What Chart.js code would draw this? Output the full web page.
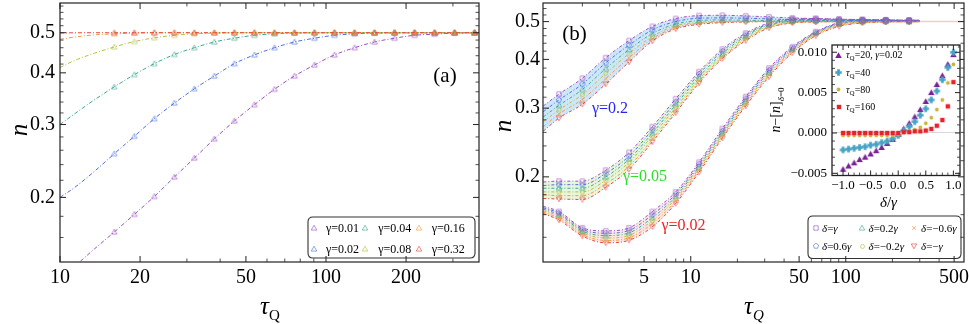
<!DOCTYPE html>
<html><head><meta charset="utf-8">
<script src="https://cdn.jsdelivr.net/npm/chart.js@4.4.1/dist/chart.umd.min.js"></script>
<style>
html,body{margin:0;padding:0;background:#fff;}
#wrap{position:relative;width:969px;height:324px;overflow:hidden;font-family:'Liberation Serif','Times New Roman',serif;background:#fff;}
canvas{position:absolute;left:0;top:0;}
.t{position:absolute;white-space:nowrap;line-height:1;color:#000;font-family:'Liberation Serif','Times New Roman',serif;}
</style></head><body>
<div id="wrap">
<canvas id="ca" width="969" height="324"></canvas>
<canvas id="cb" width="969" height="324"></canvas>
<canvas id="ci" width="969" height="324"></canvas>
</div>
<script>
// ================= DATA =================
// Panel (a): n vs tau_Q for several gamma
const tauA = [10, 11.31, 13.45, 16, 19.03, 22.63, 26.91, 32, 38.05, 45.25, 53.82, 64, 76.11, 90.51, 107.6, 128, 152.2, 181.0, 215.3, 256, 304.4, 362.0, 376];
const gammaLabelsA = ['γ=0.01', 'γ=0.02', 'γ=0.04', 'γ=0.08', 'γ=0.16', 'γ=0.32'];
const nA_g001 = [0.127, 0.136, 0.150, 0.165, 0.182, 0.201, 0.224, 0.249, 0.277, 0.306, 0.335, 0.365, 0.393, 0.418, 0.442, 0.460, 0.475, 0.485, 0.493, 0.496, 0.499, 0.500, 0.500];
const nA_g002 = [0.200, 0.211, 0.231, 0.255, 0.281, 0.310, 0.338, 0.366, 0.393, 0.421, 0.442, 0.460, 0.475, 0.485, 0.493, 0.497, 0.499, 0.500, 0.500, 0.500, 0.500, 0.500, 0.500];
const nA_g004 = [0.300, 0.318, 0.344, 0.370, 0.396, 0.421, 0.443, 0.460, 0.475, 0.485, 0.493, 0.497, 0.499, 0.500, 0.500, 0.500, 0.500, 0.500, 0.500, 0.500, 0.500, 0.500, 0.500];
const nA_g008 = [0.412, 0.428, 0.446, 0.462, 0.476, 0.486, 0.493, 0.497, 0.499, 0.500, 0.500, 0.500, 0.500, 0.500, 0.500, 0.500, 0.500, 0.500, 0.500, 0.500, 0.500, 0.500, 0.500];
const nA_g016 = [0.482, 0.488, 0.494, 0.497, 0.499, 0.500, 0.500, 0.500, 0.500, 0.500, 0.500, 0.500, 0.500, 0.500, 0.500, 0.500, 0.500, 0.500, 0.500, 0.500, 0.500, 0.500, 0.500];
const nA_g032 = [0.4995, 0.4998, 0.500, 0.500, 0.500, 0.500, 0.500, 0.500, 0.500, 0.500, 0.500, 0.500, 0.500, 0.500, 0.500, 0.500, 0.500, 0.500, 0.500, 0.500, 0.500, 0.500, 0.500];
const xTicksA = [10, 20, 50, 100, 200];
const yTicksA = [0.2, 0.3, 0.4, 0.5];

// Panel (b): n vs tau_Q for three gamma groups and six delta values
const tauB = [1.12, 1.414, 2, 2.828, 4, 5.657, 8, 11.31, 16, 22.63, 32, 45.25, 64, 90.51, 128, 181.0, 256, 300];
const deltaLabels = ['δ=γ', 'δ=0.6γ', 'δ=0.2γ', 'δ=−0.2γ', 'δ=−0.6γ', 'δ=−γ'];
const nB_g020_d100 = [0.304, 0.326, 0.358, 0.404, 0.447, 0.486, 0.509, 0.518, 0.519, 0.517, 0.514, 0.511, 0.509, 0.507, 0.506, 0.505, 0.504, 0.504];
const nB_g020_d060 = [0.294, 0.315, 0.346, 0.392, 0.435, 0.476, 0.500, 0.510, 0.511, 0.510, 0.508, 0.506, 0.505, 0.504, 0.503, 0.503, 0.502, 0.502];
const nB_g020_d020 = [0.285, 0.305, 0.335, 0.379, 0.424, 0.466, 0.493, 0.503, 0.505, 0.504, 0.503, 0.502, 0.502, 0.501, 0.501, 0.501, 0.500, 0.500];
const nB_g020_dm020 = [0.277, 0.297, 0.325, 0.368, 0.414, 0.458, 0.488, 0.498, 0.501, 0.501, 0.501, 0.500, 0.500, 0.500, 0.500, 0.500, 0.500, 0.500];
const nB_g020_dm060 = [0.269, 0.290, 0.316, 0.357, 0.404, 0.452, 0.483, 0.495, 0.499, 0.500, 0.500, 0.500, 0.500, 0.500, 0.500, 0.500, 0.500, 0.500];
const nB_g020_dm100 = [0.262, 0.283, 0.307, 0.346, 0.394, 0.446, 0.479, 0.492, 0.497, 0.499, 0.500, 0.500, 0.500, 0.500, 0.500, 0.500, 0.500, 0.500];
const nB_g005_d100 = [0.194, 0.195, 0.195, 0.208, 0.231, 0.269, 0.317, 0.372, 0.425, 0.467, 0.496, 0.508, 0.509, 0.507, 0.506, 0.505, 0.504, 0.504];
const nB_g005_d060 = [0.190, 0.191, 0.191, 0.204, 0.226, 0.264, 0.311, 0.367, 0.420, 0.463, 0.493, 0.504, 0.506, 0.505, 0.504, 0.503, 0.502, 0.502];
const nB_g005_d020 = [0.187, 0.187, 0.187, 0.200, 0.222, 0.259, 0.306, 0.361, 0.414, 0.459, 0.490, 0.501, 0.503, 0.502, 0.501, 0.501, 0.501, 0.501];
const nB_g005_dm020 = [0.183, 0.183, 0.183, 0.196, 0.218, 0.255, 0.301, 0.356, 0.409, 0.455, 0.487, 0.499, 0.501, 0.501, 0.500, 0.500, 0.500, 0.500];
const nB_g005_dm060 = [0.180, 0.179, 0.179, 0.192, 0.213, 0.250, 0.296, 0.352, 0.405, 0.451, 0.484, 0.497, 0.500, 0.500, 0.500, 0.500, 0.500, 0.500];
const nB_g005_dm100 = [0.176, 0.1755, 0.175, 0.188, 0.209, 0.246, 0.292, 0.348, 0.402, 0.447, 0.482, 0.496, 0.499, 0.500, 0.500, 0.500, 0.500, 0.500];
const nB_g002_d100 = [0.168, 0.163, 0.148, 0.1454, 0.148, 0.163, 0.183, 0.218, 0.266, 0.321, 0.380, 0.431, 0.471, 0.497, 0.505, 0.505, 0.504, 0.504];
const nB_g002_d060 = [0.1666, 0.1615, 0.1466, 0.1434, 0.1458, 0.160, 0.1805, 0.2155, 0.2625, 0.3175, 0.376, 0.428, 0.469, 0.495, 0.503, 0.503, 0.503, 0.503];
const nB_g002_d020 = [0.1652, 0.160, 0.1452, 0.1414, 0.1437, 0.1572, 0.178, 0.2128, 0.2595, 0.314, 0.372, 0.425, 0.467, 0.493, 0.501, 0.502, 0.502, 0.502];
const nB_g002_dm020 = [0.1638, 0.1585, 0.1438, 0.1394, 0.1416, 0.1545, 0.1757, 0.2104, 0.2565, 0.3105, 0.368, 0.422, 0.465, 0.491, 0.499, 0.501, 0.501, 0.501];
const nB_g002_dm060 = [0.1624, 0.1567, 0.1424, 0.1374, 0.1396, 0.1518, 0.1733, 0.208, 0.254, 0.307, 0.3645, 0.419, 0.4625, 0.4885, 0.4975, 0.500, 0.500, 0.500];
const nB_g002_dm100 = [0.161, 0.155, 0.141, 0.1355, 0.1376, 0.149, 0.171, 0.2056, 0.2515, 0.304, 0.361, 0.416, 0.460, 0.486, 0.496, 0.499, 0.500, 0.500];
const tauRefLine = [30, 580];
const nRefLine = [0.5, 0.5];
const xTicksB = [5, 10, 50, 100, 500];
const yTicksB = [0.2, 0.3, 0.4, 0.5];

// Inset: n - [n]_{delta=0} vs delta/gamma
const dOverG = [-1.0, -0.9, -0.8, -0.7, -0.6, -0.5, -0.4, -0.3, -0.2, -0.1, 0.0, 0.1, 0.2, 0.3, 0.4, 0.5, 0.6, 0.7, 0.8, 0.9, 1.0];
const insetLabels = ['τQ=20, γ=0.02', 'τQ=40', 'τQ=80', 'τQ=160'];
const dn_tq20 = [-0.0045, -0.0041, -0.0037, -0.0033, -0.0030, -0.0026, -0.0022, -0.0018, -0.0013, -0.0008, -0.0002, 0.0005, 0.0012, 0.0020, 0.0029, 0.0039, 0.0050, 0.0060, 0.0071, 0.0085, 0.0097];
const dn_tq40 = [-0.0021, -0.0020, -0.0019, -0.0018, -0.0017, -0.0015, -0.0014, -0.0012, -0.0010, -0.0007, -0.0003, 0.0003, 0.0008, 0.0014, 0.0022, 0.0030, 0.0041, 0.0052, 0.0066, 0.0081, 0.0100];
const dn_tq80 = [-0.0003, -0.0003, -0.0003, -0.0003, -0.0003, -0.0003, -0.0003, -0.0003, -0.0003, -0.0003, -0.0002, 0.0001, 0.0002, 0.0004, 0.0007, 0.0012, 0.0019, 0.0029, 0.0041, 0.0062, 0.0085];
const dn_tq160 = [0.0000, 0.0000, 0.0000, 0.0000, 0.0000, 0.0000, 0.0000, 0.0000, 0.0000, 0.0000, 0.0000, 0.0001, 0.0001, 0.0002, 0.0002, 0.0003, 0.0005, 0.0009, 0.0016, 0.0033, 0.0063];
const xTicksI = [-1, -0.5, 0, 0.5, 1];
const yTicksI = [-0.005, 0, 0.005, 0.01];

// ================= STYLE / HELPERS =================
const W = 969, H = 324;
const SERIF = "'Liberation Serif','Times New Roman',serif";
const colsA = ['#9b4fbe', '#4d6fe0', '#3ea98e', '#b8bf3e', '#f09a3a', '#e5443c'];
const colsB = ['#9b4fbe', '#4d6fe0', '#3ea98e', '#b8bf3e', '#f09a3a', '#e5443c'];
const colsI = ['#7a2196', '#45a3c6', '#c9b53c', '#e6222a'];

function mk(shape, color, s, filled, lw) {
  const Wc = Math.ceil(s + 4);
  const c = document.createElement('canvas'); c.width = Wc; c.height = Wc;
  const g = c.getContext('2d'); const m = Wc / 2, r = s / 2;
  g.strokeStyle = color; g.fillStyle = color; g.lineWidth = lw || 0.9;
  g.beginPath();
  if (shape === 'tri') { g.moveTo(m, m - r); g.lineTo(m + r, m + r * 0.75); g.lineTo(m - r, m + r * 0.75); g.closePath(); }
  else if (shape === 'itri') { g.moveTo(m, m + r); g.lineTo(m + r, m - r * 0.75); g.lineTo(m - r, m - r * 0.75); g.closePath(); }
  else if (shape === 'sq') { g.rect(m - r * 0.8, m - r * 0.8, r * 1.6, r * 1.6); }
  else if (shape === 'pent') { for (let i = 0; i < 5; i++) { const a = -Math.PI / 2 + i * 2 * Math.PI / 5; const px = m + r * Math.cos(a), py = m + r * Math.sin(a); if (i) g.lineTo(px, py); else g.moveTo(px, py); } g.closePath(); }
  else if (shape === 'circ') { g.arc(m, m, r * 0.8, 0, 2 * Math.PI); }
  else if (shape === 'x') { const q = r * 0.7; g.moveTo(m - q, m - q); g.lineTo(m + q, m + q); g.moveTo(m + q, m - q); g.lineTo(m - q, m + q); }
  else if (shape === 'plus') { const a = r * 0.42; g.moveTo(m - a, m - r); g.lineTo(m + a, m - r); g.lineTo(m + a, m - a); g.lineTo(m + r, m - a); g.lineTo(m + r, m + a); g.lineTo(m + a, m + a); g.lineTo(m + a, m + r); g.lineTo(m - a, m + r); g.lineTo(m - a, m + a); g.lineTo(m - r, m + a); g.lineTo(m - r, m - a); g.lineTo(m - a, m - a); g.closePath(); }
  if (filled) g.fill(); else g.stroke();
  return c;
}

function fixArea(area) {
  const z = s => { s.paddingLeft = 0; s.paddingRight = 0; s.paddingTop = 0; s.paddingBottom = 0; };
  return {
    x: s => { s.height = H - area.b; z(s); },
    y: s => { s.width = area.l; z(s); }
  };
}

const framePlugin = {
  id: 'frame',
  afterDatasetsDraw(chart, args, o) {
    const { ctx, chartArea: a } = chart; const xs = chart.scales.x, ys = chart.scales.y;
    ctx.save();
    if (o.legend) drawLegend(ctx, o.legend);
    ctx.strokeStyle = o.color || '#222'; ctx.lineWidth = o.lw || 1;
    const seg = (x1, y1, x2, y2) => { ctx.beginPath(); ctx.moveTo(x1, y1); ctx.lineTo(x2, y2); ctx.stroke(); };
    const doX = (vals, len) => vals.forEach(v => { const p = xs.getPixelForValue(v); if (p < a.left - 0.5 || p > a.right + 0.5) return; seg(p, a.bottom, p, a.bottom - len); seg(p, a.top, p, a.top + len); });
    const doY = (vals, len) => vals.forEach(v => { const p = ys.getPixelForValue(v); if (p < a.top - 0.5 || p > a.bottom + 0.5) return; seg(a.left, p, a.left + len, p); seg(a.right, p, a.right - len, p); });
    ctx.lineWidth = 0.8;
    doX(o.xMinor || [], o.min); doY(o.yMinor || [], o.min);
    ctx.lineWidth = 1;
    doX(o.xMajor || [], o.maj); doY(o.yMajor || [], o.maj);
    ctx.lineWidth = o.lw || 1.2;
    ctx.strokeRect(a.left, a.top, a.right - a.left, a.bottom - a.top);
    ctx.restore();
  }
};

function drawLegend(ctx, L) {
  if (L.box) {
    const [x0, y0, x1, y1] = L.box; const r = 5;
    ctx.save();
    ctx.beginPath();
    ctx.moveTo(x0 + r, y0); ctx.lineTo(x1 - r, y0); ctx.quadraticCurveTo(x1, y0, x1, y0 + r);
    ctx.lineTo(x1, y1 - r); ctx.quadraticCurveTo(x1, y1, x1 - r, y1);
    ctx.lineTo(x0 + r, y1); ctx.quadraticCurveTo(x0, y1, x0, y1 - r);
    ctx.lineTo(x0, y0 + r); ctx.quadraticCurveTo(x0, y0, x0 + r, y0); ctx.closePath();
    ctx.fillStyle = '#fff'; ctx.fill(); ctx.strokeStyle = '#333'; ctx.lineWidth = 1.1; ctx.stroke();
    ctx.restore();
  }
  L.items.forEach(it => { ctx.drawImage(it.img, Math.round(it.x - it.img.width / 2), Math.round(it.y - it.img.height / 2)); });
}

function logMinors(lo, hi, majors) {
  const out = [];
  for (let e = -2; e <= 3; e++) for (let k = 1; k <= 9; k++) { const v = +(k * Math.pow(10, e)).toPrecision(6); if (v >= lo && v <= hi && !majors.includes(v)) out.push(v); }
  return out;
}
function stepMinors(lo, hi, st, majors) {
  const out = []; for (let v = Math.ceil(lo / st) * st; v <= hi + 1e-12; v += st) { const r = +v.toFixed(6); if (!majors.some(m => Math.abs(m - r) < 1e-9)) out.push(r); } return out;
}

const tickFont = { family: SERIF, size: 20 };
const common = { responsive: false, animation: false, devicePixelRatio: 1, events: [], maintainAspectRatio: false };

// ================= PANEL (a) =================
const areaA = { l: 60, t: 3, r: 479, b: 262 };
const fA = fixArea(areaA);
const seriesA = [nA_g001, nA_g002, nA_g004, nA_g008, nA_g016, nA_g032];
const triA = colsA.map(c => mk('tri', c + 'cc', 5.5, false, 0.8));
const dsA = seriesA.map((arr, i) => ({
  label: gammaLabelsA[i],
  data: tauA.map((t, j) => ({ x: t, y: arr[j] })),
  borderColor: colsA[i], borderWidth: 1, borderDash: [4, 2, 1, 2],
  pointStyle: triA[i], pointRadius: c => (c.dataIndex >= 3 && c.dataIndex <= 21) ? 3 : 0,
  cubicInterpolationMode: 'monotone', fill: false
}));
new Chart(document.getElementById('ca'), {
  type: 'line',
  data: { datasets: dsA.reverse() },
  options: Object.assign({}, common, {
    layout: { padding: { left: 0, top: areaA.t, right: W - areaA.r, bottom: 0 } },
    scales: {
      x: { type: 'logarithmic', min: 10, max: 376, afterFit: fA.x,
        afterBuildTicks: s => { s.ticks = xTicksA.map(v => ({ value: v })); },
        ticks: { callback: v => String(v), font: tickFont, color: '#000', padding: 4, maxRotation: 0, autoSkip: false },
        grid: { display: false, drawTicks: false }, border: { display: false } },
      y: { type: 'logarithmic', min: 0.1396, max: 0.59, afterFit: fA.y,
        afterBuildTicks: s => { s.ticks = yTicksA.map(v => ({ value: v })); },
        ticks: { callback: v => String(v), font: tickFont, color: '#000', padding: 5, autoSkip: false },
        grid: { display: false, drawTicks: false }, border: { display: false } }
    },
    plugins: {
      legend: { display: false }, tooltip: { enabled: false },
      frame: {
        xMajor: xTicksA, xMinor: logMinors(10, 376, xTicksA), yMajor: yTicksA, yMinor: stepMinors(0.14, 0.59, 0.02, yTicksA),
        maj: 6, min: 3.5,
        legend: { box: [308, 217, 475, 258], items: [0, 1, 2, 3, 4, 5].map(i => ({ img: triA[i], x: [313.5, 365, 419][Math.floor(i / 2)], y: [227.5, 248.5][i % 2] })) }
      }
    }
  }),
  plugins: [framePlugin]
});

// ================= PANEL (b) =================
const areaB = { l: 543, t: 3, r: 964, b: 262 };
const fB = fixArea(areaB);
const groupsB = [
  [nB_g020_d100, nB_g020_d060, nB_g020_d020, nB_g020_dm020, nB_g020_dm060, nB_g020_dm100],
  [nB_g005_d100, nB_g005_d060, nB_g005_d020, nB_g005_dm020, nB_g005_dm060, nB_g005_dm100],
  [nB_g002_d100, nB_g002_d060, nB_g002_d020, nB_g002_dm020, nB_g002_dm060, nB_g002_dm100]
];
const tintsB = ['rgba(190,222,248,0.75)', 'rgba(222,242,208,0.75)', 'rgba(250,222,222,0.75)'];
const shapesB = ['sq', 'pent', 'tri', 'circ', 'x', 'itri'];
const mkB = shapesB.map((s, i) => mk(s, colsB[i] + 'cc', s === 'circ' ? 5 : 5.5, false, 0.8));
const dsB = [];
groupsB.forEach((grp, gi) => {
  const topIndex = dsB.length;
  grp.forEach((arr, di) => {
    dsB.push({
      label: deltaLabels[di],
      data: tauB.map((t, j) => ({ x: t, y: arr[j] })),
      borderColor: colsB[di], borderWidth: 1, borderDash: [3, 2, 1, 2],
      pointStyle: mkB[di], pointRadius: c => (c.dataIndex >= 1 && c.dataIndex <= 16) ? 3 : 0,
      cubicInterpolationMode: 'monotone',
      fill: di === 5 ? { target: topIndex } : false,
      backgroundColor: tintsB[gi]
    });
  });
});
// faint reference line at n = 1/2
dsB.push({ data: tauRefLine.map((t, j) => ({ x: t, y: nRefLine[j] })), borderColor: 'rgba(245,190,190,0.8)', borderWidth: 1.5, pointRadius: 0, fill: false });

new Chart(document.getElementById('cb'), {
  type: 'line',
  data: { datasets: dsB },
  options: Object.assign({}, common, {
    layout: { padding: { left: 0, top: areaB.t, right: W - areaB.r, bottom: 0 } },
    scales: {
      x: { type: 'logarithmic', min: 1.114, max: 579, afterFit: fB.x,
        afterBuildTicks: s => { s.ticks = xTicksB.map(v => ({ value: v })); },
        ticks: { callback: v => String(v), font: tickFont, color: '#000', padding: 4, maxRotation: 0, autoSkip: false },
        grid: { display: false, drawTicks: false }, border: { display: false } },
      y: { type: 'logarithmic', min: 0.121, max: 0.558, afterFit: fB.y,
        afterBuildTicks: s => { s.ticks = yTicksB.map(v => ({ value: v })); },
        ticks: { callback: v => String(v), font: tickFont, color: '#000', padding: 3, autoSkip: false },
        grid: { display: false, drawTicks: false }, border: { display: false } }
    },
    plugins: {
      legend: { display: false }, tooltip: { enabled: false },
      filler: { drawTime: 'beforeDatasetsDraw', propagate: false },
      frame: {
        xMajor: xTicksB, xMinor: logMinors(1.114, 579, xTicksB), yMajor: yTicksB, yMinor: stepMinors(0.12, 0.558, 0.02, yTicksB),
        maj: 6, min: 3.5,
        legend: { box: [808, 216, 961, 258.5], items: [0, 1, 2, 3, 4, 5].map(i => ({ img: mkB[i], x: [816, 862, 913.5][Math.floor(i / 2)], y: [228, 246][i % 2] })) }
      }
    }
  }),
  plugins: [framePlugin]
});

// ================= INSET =================
const areaI = { l: 832, t: 45, r: 960, b: 175.5 };
const fI = fixArea(areaI);
const seriesI = [dn_tq20, dn_tq40, dn_tq80, dn_tq160];
const mkI = [mk('tri', colsI[0], 6.5, true), mk('plus', colsI[1], 6.5, true), mk('circ', colsI[2], 4.8, true), mk('sq', colsI[3], 5.5, true)];
const dsI = seriesI.map((arr, i) => ({
  label: insetLabels[i],
  data: dOverG.map((x, j) => ({ x: x, y: arr[j] })),
  showLine: false, pointStyle: mkI[i], pointRadius: 3
}));
const whiteBg = { id: 'whiteBg', beforeDraw(chart) { const { ctx, chartArea: a } = chart; ctx.save(); ctx.fillStyle = '#fff'; ctx.fillRect(a.left, a.top, a.right - a.left, a.bottom - a.top); ctx.restore(); } };
new Chart(document.getElementById('ci'), {
  type: 'scatter',
  data: { datasets: dsI.reverse() },
  options: Object.assign({}, common, {
    layout: { padding: { left: 0, top: areaI.t, right: W - areaI.r, bottom: 0 } },
    scales: {
      x: { type: 'linear', min: -1.2, max: 1.12, afterFit: fI.x,
        afterBuildTicks: s => { s.ticks = xTicksI.map(v => ({ value: v })); },
        ticks: { callback: v => (v < 0 ? '−' : '') + Math.abs(v).toFixed(1), font: { family: SERIF, size: 13 }, color: '#000', padding: 2, maxRotation: 0, autoSkip: false },
        grid: { display: false, drawTicks: false }, border: { display: false } },
      y: { type: 'linear', min: -0.00527, max: 0.0109, afterFit: fI.y,
        afterBuildTicks: s => { s.ticks = yTicksI.map(v => ({ value: v })); },
        ticks: { callback: v => (v < -1e-9 ? '−' : '') + Math.abs(v).toFixed(3), font: { family: SERIF, size: 13 }, color: '#000', padding: 5, autoSkip: false },
        grid: { display: true, drawTicks: false, drawOnChartArea: true, color: c => (Math.abs(c.tick.value) < 1e-9 ? '#d8d8d8' : 'rgba(0,0,0,0)'), lineWidth: 1 },
        border: { display: false } }
    },
    plugins: {
      legend: { display: false }, tooltip: { enabled: false },
      frame: {
        xMajor: xTicksI, xMinor: stepMinors(-1.2, 1.12, 0.1, xTicksI), yMajor: yTicksI, yMinor: stepMinors(-0.0052, 0.0109, 0.001, yTicksI),
        maj: 5, min: 3, lw: 1.3,
        legend: { items: [0, 1, 2, 3].map(i => ({ img: mkI[i], x: 838.5, y: [55, 72.5, 89.5, 106.5][i] })) }
      }
    }
  }),
  plugins: [whiteBg, framePlugin]
});

// ================= TEXT =================
const wrap = document.getElementById('wrap');
function put(html, cx, cy, style, rot) {
  const s = document.createElement('span'); s.className = 't'; s.innerHTML = html;
  s.style.cssText += style || '';
  s.style.left = cx + 'px'; s.style.top = cy + 'px';
  s.style.transform = 'translate(-50%,-50%)' + (rot ? ' rotate(' + rot + 'deg)' : '');
  wrap.appendChild(s);
}
function putL(html, x, cy, style) {
  const s = document.createElement('span'); s.className = 't'; s.innerHTML = html;
  s.style.cssText += style || '';
  s.style.left = x + 'px'; s.style.top = cy + 'px'; s.style.transform = 'translateY(-50%)';
  wrap.appendChild(s);
}
// panel labels & axis titles
put('(a)', 445, 75, 'font-size:21px;');
put('(b)', 574.5, 33, 'font-size:21px;');
put('<i>n</i>', 18, 130, 'font-size:25px;', -90);
put('<i>n</i>', 502, 126, 'font-size:25px;', -90);
put('<i>τ</i><span style="font-size:15px;position:relative;top:6px;">Q</span>', 270, 305, 'font-size:25px;');
put('<i>τ</i><i style="font-size:15px;position:relative;top:6px;">Q</i>', 754, 305, 'font-size:25px;');
// annotations
put('γ=0.2', 610, 108, 'font-size:16px;color:#2626f0;');
put('γ=0.05', 645, 176, 'font-size:16px;color:#30dc30;');
put('γ=0.02', 683.5, 225, 'font-size:16px;color:#ee2020;');
// legend (a)
gammaLabelsA.forEach((t, i) => putL(t, [326, 378.3, 431.7][Math.floor(i / 2)], [227.5, 248.5][i % 2], 'font-size:12px;'));
// legend (b)
const dHtml = ['<i>δ</i>=<i>γ</i>', '<i>δ</i>=0.6<i>γ</i>', '<i>δ</i>=0.2<i>γ</i>', '<i>δ</i>=−0.2<i>γ</i>', '<i>δ</i>=−0.6<i>γ</i>', '<i>δ</i>=−<i>γ</i>'];
dHtml.forEach((t, i) => putL(t, [822, 868.5, 921][Math.floor(i / 2)], [228, 246][i % 2], 'font-size:11px;'));
// inset labels
put('<i>δ</i>/<i>γ</i>', 888.5, 202, 'font-size:15px;');
put('<i>n</i>−[<i>n</i>]<span style="font-size:9px;position:relative;top:4px;"><i>δ</i>=0</span>', 776, 110, 'font-size:14px;', -90);
const insHtml = ['<i>τ</i><span style="font-size:7px;position:relative;top:2px;">Q</span>=20, <i>γ</i>=0.02', '<i>τ</i><span style="font-size:7px;position:relative;top:2px;">Q</span>=40', '<i>τ</i><span style="font-size:7px;position:relative;top:2px;">Q</span>=80', '<i>τ</i><span style="font-size:7px;position:relative;top:2px;">Q</span>=160'];
insHtml.forEach((t, i) => putL(t, 846, [55, 72.5, 89.5, 106.5][i], 'font-size:10px;'));
</script>
</body></html>
